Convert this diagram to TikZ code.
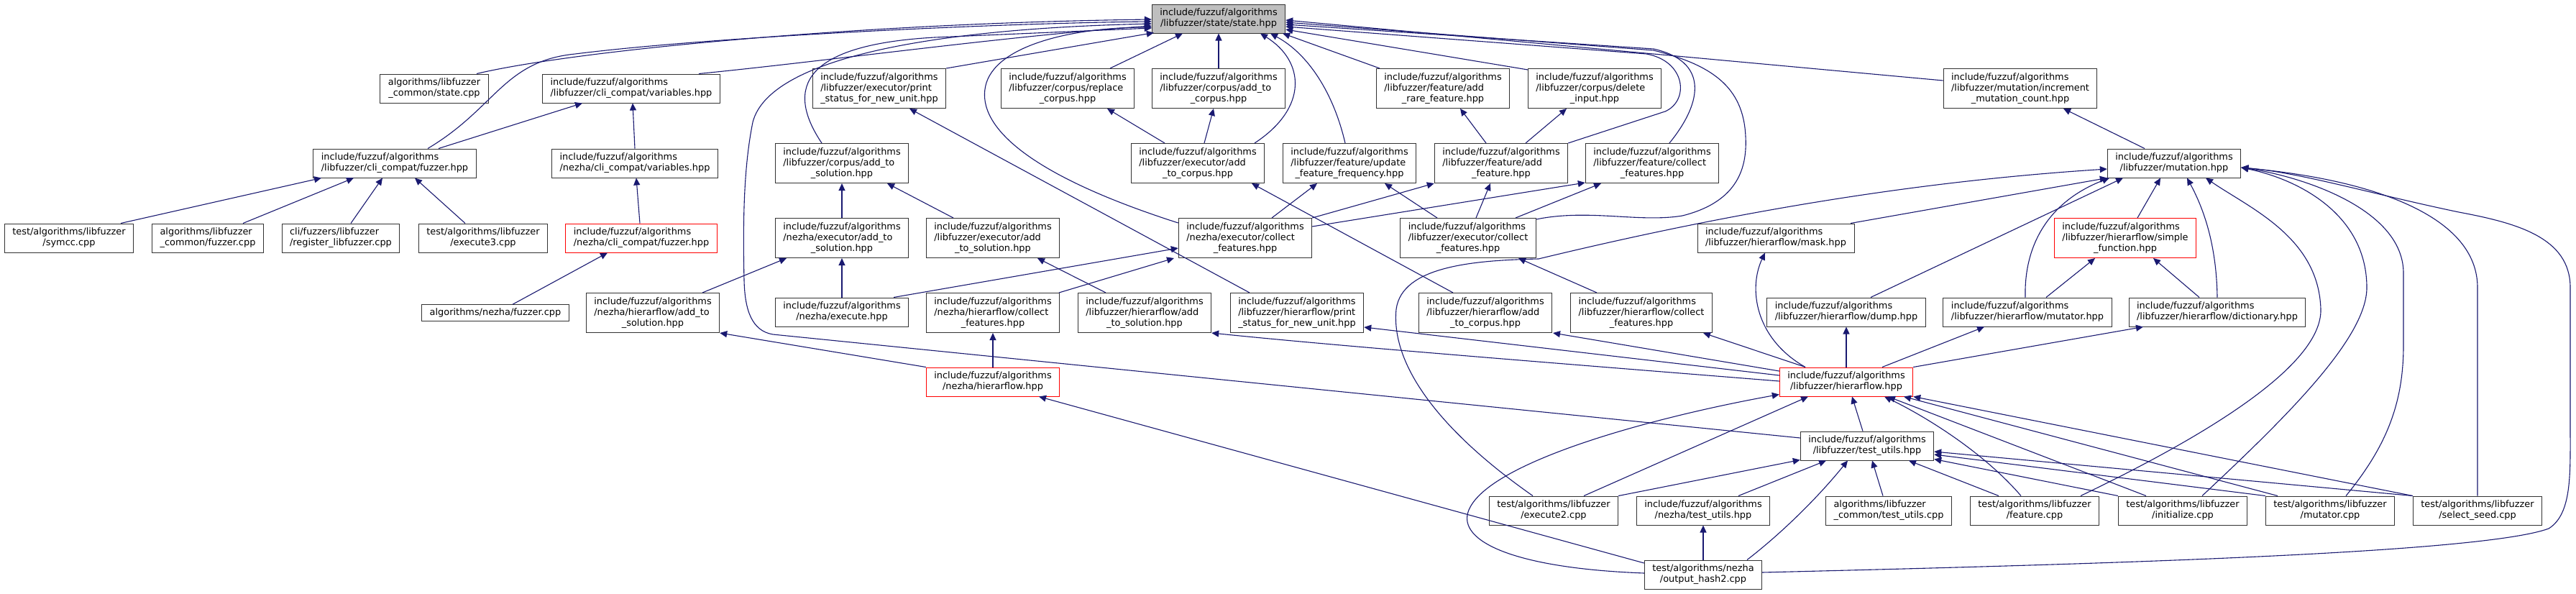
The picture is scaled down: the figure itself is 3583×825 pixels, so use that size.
\documentclass[tikz,border=0pt]{standalone}
\usepackage{fontspec}
\setmainfont{DejaVu Sans}
\usetikzlibrary{arrows.meta}
\definecolor{Edge}{HTML}{191970}
\definecolor{Frame}{HTML}{333333}
\definecolor{Trunc}{HTML}{FF0000}
\definecolor{Shade}{HTML}{BFBFBF}
\newcommand{\lbl}[2]{\begin{tabular}{@{}l@{}}#1\\\multicolumn{1}{@{}c@{}}{#2}\end{tabular}}
\newcommand{\incpath}{include/fuzzuf/algorithms}
\tikzset{
    filebox/.style={rectangle, draw=Frame, line width=0.5pt, fill=white, inner xsep=5.5pt, inner ysep=2.5pt, font=\fontsize{6.45}{7.5}\selectfont},
    mainbox/.style={filebox, fill=Shade},
    redbox/.style={filebox, draw=Trunc},
    incl/.style={-{Triangle[length=5pt,width=4.5pt]}, color=Edge, line width=0.55pt},
}
\begin{document}
\begin{tikzpicture}[x=0.5pt, y=-0.5pt]
    \useasboundingbox (0,0) rectangle (3583,825);

    \node[mainbox] (state) at (1695,26) {\lbl{\incpath}{/libfuzzer/state/state.hpp}};

    \node[filebox] (statecpp) at (604,123) {\lbl{algorithms/libfuzzer}{\_common/state.cpp}};
    \node[filebox] (clivar) at (878,123) {\lbl{\incpath}{/libfuzzer/cli\_compat/variables.hpp}};
    \node[filebox] (prstat) at (1223,123) {\lbl{\incpath\\/libfuzzer/executor/print}{\_status\_for\_new\_unit.hpp}};
    \node[filebox] (repl) at (1485,123) {\lbl{\incpath\\/libfuzzer/corpus/replace}{\_corpus.hpp}};
    \node[filebox] (caddcorp) at (1695,123) {\lbl{\incpath\\/libfuzzer/corpus/add\_to}{\_corpus.hpp}};
    \node[filebox] (addrare) at (2007,123) {\lbl{\incpath\\/libfuzzer/feature/add}{\_rare\_feature.hpp}};
    \node[filebox] (delinp) at (2218,123) {\lbl{\incpath\\/libfuzzer/corpus/delete}{\_input.hpp}};
    \node[filebox] (incmut) at (2810,123) {\lbl{\incpath\\/libfuzzer/mutation/increment}{\_mutation\_count.hpp}};

    \node[filebox] (clifuzz) at (549,227) {\lbl{\incpath}{/libfuzzer/cli\_compat/fuzzer.hpp}};
    \node[filebox] (nclivar) at (883,227) {\lbl{\incpath}{/nezha/cli\_compat/variables.hpp}};
    \node[filebox] (caddsol) at (1171,227) {\lbl{\incpath\\/libfuzzer/corpus/add\_to}{\_solution.hpp}};
    \node[filebox] (eaddcorp) at (1666,227) {\lbl{\incpath\\/libfuzzer/executor/add}{\_to\_corpus.hpp}};
    \node[filebox] (updfreq) at (1877,227) {\lbl{\incpath\\/libfuzzer/feature/update}{\_feature\_frequency.hpp}};
    \node[filebox] (addfeat) at (2088,227) {\lbl{\incpath\\/libfuzzer/feature/add}{\_feature.hpp}};
    \node[filebox] (fcoll) at (2298,227) {\lbl{\incpath\\/libfuzzer/feature/collect}{\_features.hpp}};
    \node[filebox] (mutation) at (3024,227) {\lbl{\incpath}{/libfuzzer/mutation.hpp}};

    \node[filebox] (symcc) at (96,331) {\lbl{test/algorithms/libfuzzer}{/symcc.cpp}};
    \node[filebox] (lfcfuzz) at (289,331) {\lbl{algorithms/libfuzzer}{\_common/fuzzer.cpp}};
    \node[filebox] (regl) at (474,331) {\lbl{cli/fuzzers/libfuzzer}{/register\_libfuzzer.cpp}};
    \node[filebox] (exec3) at (672,331) {\lbl{test/algorithms/libfuzzer}{/execute3.cpp}};
    \node[redbox] (nclifuzz) at (892,331) {\lbl{\incpath}{/nezha/cli\_compat/fuzzer.hpp}};
    \node[filebox] (naddsol) at (1171,331) {\lbl{\incpath\\/nezha/executor/add\_to}{\_solution.hpp}};
    \node[filebox] (eaddsol) at (1381,331) {\lbl{\incpath\\/libfuzzer/executor/add}{\_to\_solution.hpp}};
    \node[filebox] (ncoll) at (1732,331) {\lbl{\incpath\\/nezha/executor/collect}{\_features.hpp}};
    \node[filebox] (ecoll) at (2042,331) {\lbl{\incpath\\/libfuzzer/executor/collect}{\_features.hpp}};
    \node[filebox] (mask) at (2470,331) {\lbl{\incpath}{/libfuzzer/hierarflow/mask.hpp}};
    \node[redbox] (simplef) at (2956,331) {\lbl{\incpath\\/libfuzzer/hierarflow/simple}{\_function.hpp}};

    \node[filebox] (nfuzzcpp) at (689,435) {algorithms/nezha/fuzzer.cpp};
    \node[filebox] (nhaddsol) at (908,435) {\lbl{\incpath\\/nezha/hierarflow/add\_to}{\_solution.hpp}};
    \node[filebox] (nexec) at (1171,434) {\lbl{\incpath}{/nezha/execute.hpp}};
    \node[filebox] (nhcoll) at (1381,435) {\lbl{\incpath\\/nezha/hierarflow/collect}{\_features.hpp}};
    \node[filebox] (haddsol) at (1592,435) {\lbl{\incpath\\/libfuzzer/hierarflow/add}{\_to\_solution.hpp}};
    \node[filebox] (hprstat) at (1804,435) {\lbl{\incpath\\/libfuzzer/hierarflow/print}{\_status\_for\_new\_unit.hpp}};
    \node[filebox] (haddcorp) at (2066,435) {\lbl{\incpath\\/libfuzzer/hierarflow/add}{\_to\_corpus.hpp}};
    \node[filebox] (hcoll) at (2283,435) {\lbl{\incpath\\/libfuzzer/hierarflow/collect}{\_features.hpp}};
    \node[filebox] (dump) at (2568,434) {\lbl{\incpath}{/libfuzzer/hierarflow/dump.hpp}};
    \node[filebox] (mutatorh) at (2820,434) {\lbl{\incpath}{/libfuzzer/hierarflow/mutator.hpp}};
    \node[filebox] (dict) at (3084,434) {\lbl{\incpath}{/libfuzzer/hierarflow/dictionary.hpp}};

    \node[redbox] (nhier) at (1381,531) {\lbl{\incpath}{/nezha/hierarflow.hpp}};
    \node[redbox] (hier) at (2568,531) {\lbl{\incpath}{/libfuzzer/hierarflow.hpp}};
    \node[filebox] (tutils) at (2597,620) {\lbl{\incpath}{/libfuzzer/test\_utils.hpp}};

    \node[filebox] (execute2) at (2161,710) {\lbl{test/algorithms/libfuzzer}{/execute2.cpp}};
    \node[filebox] (ntutils) at (2369,710) {\lbl{\incpath}{/nezha/test\_utils.hpp}};
    \node[filebox] (lfctu) at (2627,710) {\lbl{algorithms/libfuzzer}{\_common/test\_utils.cpp}};
    \node[filebox] (featcpp) at (2830,710) {\lbl{test/algorithms/libfuzzer}{/feature.cpp}};
    \node[filebox] (initcpp) at (3036,710) {\lbl{test/algorithms/libfuzzer}{/initialize.cpp}};
    \node[filebox] (mutcpp) at (3241,710) {\lbl{test/algorithms/libfuzzer}{/mutator.cpp}};
    \node[filebox] (selseed) at (3446,710) {\lbl{test/algorithms/libfuzzer}{/select\_seed.cpp}};
    \node[filebox] (ohash) at (2369,799) {\lbl{test/algorithms/nezha}{/output\_hash2.cpp}};

    \draw[incl] ([shift={(59,0)}]statecpp.north) .. controls (800,70) and (1200,32) .. ([shift={(0,1)}]state.west);
    \draw[incl] ([shift={(46,0)}]clifuzz.north) .. controls (690,150) and (700,85) .. (800,75) .. controls (1000,50) and (1400,32) .. ([shift={(0,4)}]state.west);
    \draw[incl] ([shift={(94,0)}]clivar.north) .. controls (1150,85) and (1400,50) .. ([shift={(0,10)}]state.west);
    \draw[incl] (prstat.north east) -- ([shift={(3,-1)}]state.south west);
    \draw[incl] ([shift={(-28,0)}]caddsol.north) .. controls (1090,120) and (1120,62) .. (1300,52) -- ([shift={(0,13)}]state.west);
    \draw[incl] ([shift={(0,-11)}]tutils.west) -- (1075,465) .. controls (1045,460) and (1036,430) .. (1035,390) .. controls (1033,300) and (1035,230) .. (1047,170) .. controls (1070,80) and (1300,40) .. ([shift={(0,7)}]state.west);
    \draw[incl] ([shift={(0,7)}]ncoll.north west) .. controls (1420,240) and (1355,170) .. (1372,115) .. controls (1390,60) and (1500,38) .. ([shift={(0,12)}]state.west);
    \draw[incl] ([shift={(59,0)}]repl.north) -- ([shift={(-50,0)}]state.south);
    \draw[incl] (caddcorp.north) -- (state.south);
    \draw[incl] ([shift={(79,0)}]eaddcorp.north) .. controls (1820,150) and (1815,85) .. ([shift={(58,0)}]state.south);
    \draw[incl] ([shift={(-6,0)}]updfreq.north) .. controls (1855,130) and (1820,75) .. ([shift={(72,0)}]state.south);
    \draw[incl] ([shift={(-88,0)}]addrare.north) -- ([shift={(-4,0)}]state.south east);
    \draw[incl] ([shift={(-93,2)}]delinp.north) -- ([shift={(0,15)}]state.east);
    \draw[incl] ([shift={(0,-11)}]incmut.west) -- ([shift={(0,2)}]state.east);
    \draw[incl] (addfeat.north east) -- (2316,155) .. controls (2350,140) and (2345,85) .. (2290,75) -- ([shift={(0,11)}]state.east);
    \draw[incl] ([shift={(24,0)}]fcoll.north) .. controls (2370,140) and (2375,85) .. (2300,68) -- ([shift={(0,8)}]state.east);
    \draw[incl] ([shift={(0,2)}]ecoll.north east) .. controls (2210,290) and (2280,310) .. (2340,300) .. controls (2420,280) and (2430,230) .. (2428,190) .. controls (2425,120) and (2380,90) .. (2300,70) -- ([shift={(0,5)}]state.east);

    \draw[incl] ([shift={(72,0)}]symcc.north) -- ([shift={(-102,0)}]clifuzz.south);
    \draw[incl] ([shift={(49,0)}]lfcfuzz.north) -- ([shift={(-57,0)}]clifuzz.south);
    \draw[incl] ([shift={(14,0)}]regl.north) -- ([shift={(-17,0)}]clifuzz.south);
    \draw[incl] ([shift={(-25,0)}]exec3.north) -- ([shift={(28,0)}]clifuzz.south);
    \draw[incl] ([shift={(61,0)}]clifuzz.north) -- ([shift={(-68,0)}]clivar.south);
    \draw[incl] (nclivar.north) -- ([shift={(2,0)}]clivar.south);
    \draw[incl] ([shift={(-2,0)}]nclifuzz.north) -- ([shift={(2,0)}]nclivar.south);
    \draw[incl] ([shift={(24,0)}]nfuzzcpp.north) -- ([shift={(-47,0)}]nclifuzz.south);

    \draw[incl] (naddsol.north) -- (caddsol.south);
    \draw[incl] ([shift={(-55,0)}]eaddsol.north) -- ([shift={(63,0)}]caddsol.south);
    \draw[incl] ([shift={(69,0)}]nhaddsol.north) -- ([shift={(-77,0)}]naddsol.south);
    \draw[incl] (nexec.north) -- (naddsol.south);
    \draw[incl] ([shift={(-66,0)}]hprstat.north) -- ([shift={(42,0)}]prstat.south);
    \draw[incl] ([shift={(-46,0)}]eaddcorp.north) -- ([shift={(55,0)}]repl.south);
    \draw[incl] ([shift={(9,0)}]eaddcorp.north) -- ([shift={(-7,0)}]caddcorp.south);
    \draw[incl] ([shift={(-45,0)}]haddcorp.north) -- ([shift={(75,0)}]eaddcorp.south);
    \draw[incl] ([shift={(72,0)}]nexec.north) -- ([shift={(0,14)}]ncoll.west);
    \draw[incl] ([shift={(92,0)}]nhcoll.north) -- ([shift={(-99,0)}]ncoll.south);
    \draw[incl] ([shift={(37,0)}]ncoll.north) -- ([shift={(-45,0)}]updfreq.south);
    \draw[incl] (ncoll.north east) -- (addfeat.south west);
    \draw[incl] ([shift={(0,-16)}]ncoll.east) -- ([shift={(0,-1)}]fcoll.south west);
    \draw[incl] ([shift={(-43,0)}]ecoll.north) -- ([shift={(49,0)}]updfreq.south);
    \draw[incl] ([shift={(11,0)}]ecoll.north) -- ([shift={(-15,0)}]addfeat.south);
    \draw[incl] ([shift={(66,0)}]ecoll.north) -- ([shift={(-71,0)}]fcoll.south);
    \draw[incl] ([shift={(-21,0)}]addfeat.north) -- ([shift={(24,0)}]addrare.south);
    \draw[incl] ([shift={(34,0)}]addfeat.north) -- ([shift={(-39,0)}]delinp.south);
    \draw[incl] ([shift={(-62,0)}]hcoll.north) -- ([shift={(70,0)}]ecoll.south);
    \draw[incl] ([shift={(-54,0)}]haddsol.north) -- ([shift={(62,0)}]eaddsol.south);

    \draw[incl] ([shift={(-41,0)}]mutation.north) -- ([shift={(60,0)}]incmut.south);
    \draw[incl] ([shift={(-29,0)}]execute2.north) .. controls (1990,590) and (1935,500) .. (1942,430) .. controls (1950,370) and (2050,362) .. (2140,360) .. controls (2450,285) and (2700,250) .. ([shift={(0,8)}]mutation.west);
    \draw[incl] ([shift={(104,0)}]mask.north) -- (mutation.south west);
    \draw[incl] ([shift={(34,0)}]dump.north) -- ([shift={(-71,0)}]mutation.south);
    \draw[incl] ([shift={(-3,0)}]mutatorh.north) .. controls (2815,340) and (2850,280) .. ([shift={(-90,0)}]mutation.south);
    \draw[incl] ([shift={(17,0)}]simplef.north) -- ([shift={(-19,0)}]mutation.south);
    \draw[incl] (dict.north) .. controls (3083,340) and (3065,290) .. ([shift={(18,0)}]mutation.south);
    \draw[incl] ([shift={(64,0)}]featcpp.north) .. controls (3060,610) and (3230,510) .. (3228,430) .. controls (3225,330) and (3130,290) .. ([shift={(44,0)}]mutation.south);
    \draw[incl] ([shift={(27,0)}]initcpp.north) .. controls (3180,580) and (3292,470) .. (3292,400) .. controls (3292,300) and (3200,250) .. ([shift={(0,6)}]mutation.east);
    \draw[incl] ([shift={(22,0)}]mutcpp.north) .. controls (3320,620) and (3343,560) .. (3343,480) -- (3343,380) .. controls (3343,290) and (3200,245) .. ([shift={(0,6)}]mutation.east);
    \draw[incl] (selseed.north) -- (3446,400) .. controls (3446,300) and (3300,250) .. ([shift={(0,6)}]mutation.east);
    \draw[incl] ([shift={(0,-3)}]ohash.east) .. controls (2900,785) and (3450,770) .. (3545,735) .. controls (3577,715) and (3575,660) .. (3575,600) -- (3575,400) .. controls (3575,330) and (3500,310) .. (3420,295) .. controls (3300,270) and (3200,240) .. ([shift={(0,6)}]mutation.east);
    \draw[incl] ([shift={(26,0)}]mutatorh.north) -- ([shift={(-42,0)}]simplef.south);
    \draw[incl] ([shift={(-25,0)}]dict.north) -- ([shift={(39,0)}]simplef.south);

    \draw[incl] ([shift={(-57,0)}]hier.north) .. controls (2440,470) and (2432,400) .. ([shift={(-15,0)}]mask.south);
    \draw[incl] (hier.north) -- (dump.south);
    \draw[incl] ([shift={(50,0)}]hier.north) -- ([shift={(-60,0)}]mutatorh.south);
    \draw[incl] (hier.north east) -- ([shift={(-103,0)}]dict.south);
    \draw[incl] ([shift={(-57,0)}]hier.north) -- ([shift={(86,0)}]hcoll.south);
    \draw[incl] ([shift={(0,-15)}]hier.west) -- ([shift={(94,0)}]haddcorp.south);
    \draw[incl] ([shift={(0,-9)}]hier.west) -- ([shift={(0,-8)}]hprstat.south east);
    \draw[incl] ([shift={(0,-1)}]hier.west) .. controls (2100,500) and (1850,480) .. (haddsol.south east);
    \draw[incl] ([shift={(42,0)}]execute2.north) -- ([shift={(-53,0)}]hier.south);
    \draw[incl] ([shift={(0,-2)}]ohash.west) .. controls (2100,790) and (2020,750) .. (2045,705) .. controls (2080,640) and (2300,580) .. ([shift={(0,-3)}]hier.south west);
    \draw[incl] ([shift={(-6,0)}]tutils.north) -- ([shift={(8,0)}]hier.south);
    \draw[incl] ([shift={(-19,0)}]featcpp.north) .. controls (2760,630) and (2680,580) .. ([shift={(53,0)}]hier.south);
    \draw[incl] ([shift={(-51,0)}]initcpp.north) -- ([shift={(58,0)}]hier.south);
    \draw[incl] ([shift={(-73,0)}]mutcpp.north) -- ([shift={(80,0)}]hier.south);
    \draw[incl] (selseed.north west) -- (hier.south east);

    \draw[incl] (execute2.north east) -- ([shift={(0,-1)}]tutils.south west);
    \draw[incl] ([shift={(49,0)}]ntutils.north) -- ([shift={(-57,0)}]tutils.south);
    \draw[incl] ([shift={(61,0)}]ohash.north) .. controls (2480,740) and (2530,690) .. ([shift={(-27,0)}]tutils.south);
    \draw[incl] ([shift={(-8,0)}]lfctu.north) -- ([shift={(7,0)}]tutils.south);
    \draw[incl] ([shift={(-50,0)}]featcpp.north) -- ([shift={(58,0)}]tutils.south);
    \draw[incl] (initcpp.north west) -- ([shift={(0,-2)}]tutils.south east);
    \draw[incl] (mutcpp.north west) -- ([shift={(0,12)}]tutils.east);
    \draw[incl] (selseed.north west) -- ([shift={(0,8)}]tutils.east);
    \draw[incl] (ohash.north) -- (ntutils.south);

    \draw[incl] (nhier.north) -- (nhcoll.south);
    \draw[incl] (nhier.north west) -- (nhaddsol.south east);
    \draw[incl] ([shift={(0,-16)}]ohash.west) -- ([shift={(64,0)}]nhier.south);
\end{tikzpicture}
\end{document}
